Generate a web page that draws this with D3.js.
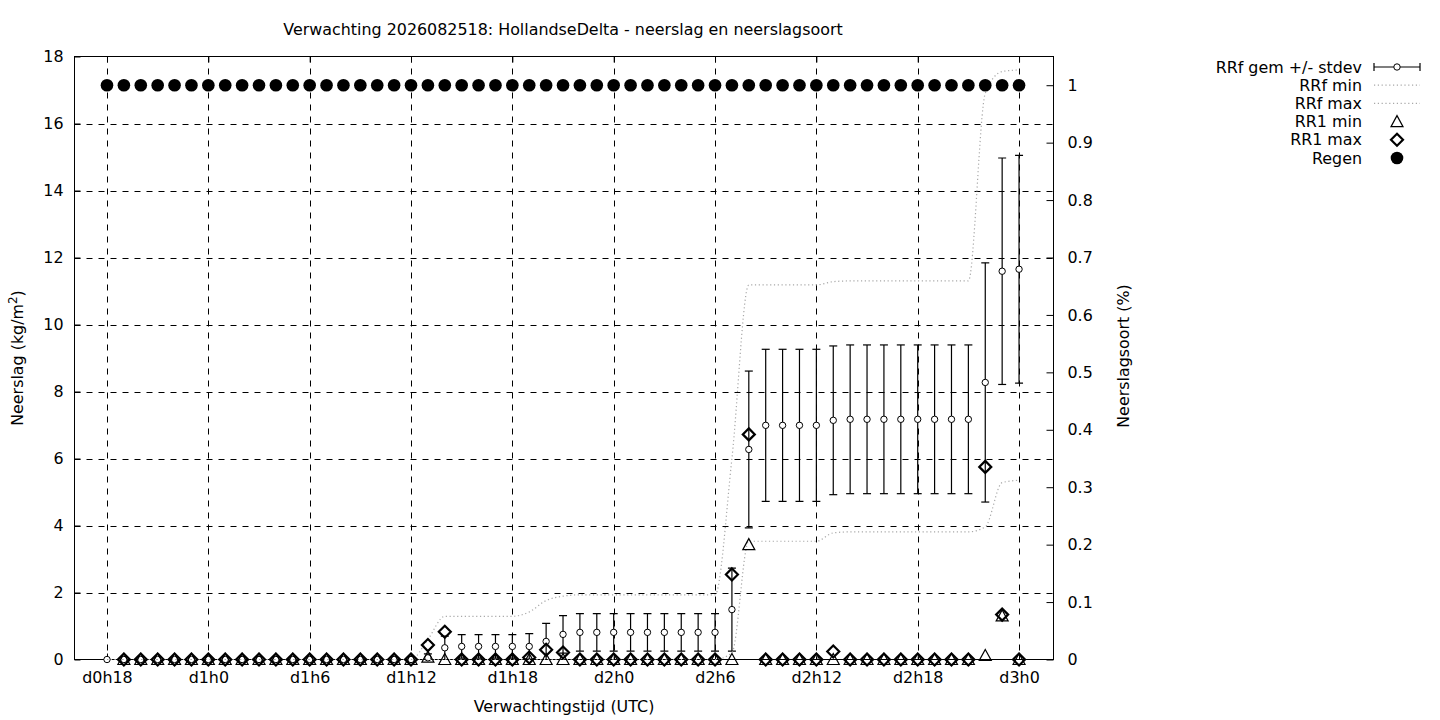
<!DOCTYPE html>
<html>
<head>
<meta charset="utf-8">
<script src="https://cdn.jsdelivr.net/npm/d3@7"></script>
<style>
  html, body { margin: 0; padding: 0; background: #fff; }
  svg text { font-family: "DejaVu Sans", sans-serif; fill: #000; }
</style>
</head>
<body>
<svg id="chart" width="1440" height="720"></svg>
<script>
// ---------- DATA ----------
const title = "Verwachting 2026082518: HollandseDelta - neerslag en neerslagsoort";
// forecast hours (from d0h0), hourly 18..72
const hours = [18,19,20,21,22,23,24,25,26,27,28,29,30,31,32,33,34,35,36,37,38,39,40,41,42,43,44,45,46,47,48,49,50,51,52,53,54,55,56,57,58,59,60,61,62,63,64,65,66,67,68,69,70,71,72];
const tickHours = [18,24,30,36,42,48,54,60,66,72];
const tickLabels = ["d0h18","d1h0","d1h6","d1h12","d1h18","d2h0","d2h6","d2h12","d2h18","d3h0"];
const yTicks = [0,2,4,6,8,10,12,14,16,18];
const y2Ticks = [0,0.1,0.2,0.3,0.4,0.5,0.6,0.7,0.8,0.9,1];

// RRf gem (mean) and stdev
const rrfMean = [0,0,0,0,0,0,0,0,0,0,0,0,0,0,0,0,0,0,0,0.05,0.35,0.39,0.39,0.39,0.39,0.39,0.54,0.75,0.81,0.81,0.81,0.81,0.81,0.81,0.81,0.81,0.81,1.49,6.27,6.99,6.99,6.99,6.99,7.14,7.17,7.17,7.17,7.17,7.17,7.17,7.17,7.17,8.27,11.59,11.65];
const rrfStd  = [0,0,0,0,0,0,0,0,0,0,0,0,0,0,0,0,0,0,0,0.12,0.35,0.35,0.35,0.35,0.35,0.38,0.54,0.56,0.56,0.56,0.56,0.56,0.56,0.56,0.56,0.56,0.56,1.24,2.34,2.27,2.27,2.27,2.27,2.22,2.22,2.22,2.22,2.22,2.22,2.22,2.22,2.22,3.57,3.38,3.40];
// RRf min / max
const rrfMin = [0,0,0,0,0,0,0,0,0,0,0,0,0,0,0,0,0,0,0,0,0,0,0,0,0,0,0,0,0,0,0,0,0,0,0,0,0,0.2,3.53,3.53,3.53,3.53,3.53,3.78,3.81,3.81,3.81,3.81,3.81,3.81,3.81,3.81,3.96,5.28,5.35];
const rrfMax = [0,0,0,0,0,0,0,0,0,0,0,0,0,0,0,0,0,0,0,0.6,1.29,1.29,1.29,1.29,1.29,1.42,1.76,1.89,1.93,1.93,1.93,1.93,1.93,1.93,1.93,1.93,1.93,6.0,11.18,11.18,11.18,11.18,11.18,11.28,11.30,11.30,11.30,11.30,11.30,11.30,11.30,11.30,16.9,17.55,17.6];
// RR1 min / max (no value at first hour)
const rr1Min = [null,0,0,0,0,0,0,0,0,0,0,0,0,0,0,0,0,0,0,0.07,0,0,0,0,0,0,0,0,0,0,0,0,0,0,0,0,0,0,3.43,0,0,0,0,0,0,0,0,0,0,0,0,0,0.12,1.30,0];
const rr1Max = [null,0,0,0,0,0,0,0,0,0,0,0,0,0,0,0,0,0,0,0.43,0.83,0,0,0,0,0.06,0.29,0.21,0,0,0,0,0,0,0,0,0,2.54,6.72,0,0,0,0,0.24,0,0,0,0,0,0,0,0,5.75,1.34,0];
// Regen (neerslagsoort, right axis)
const regen = [1,1,1,1,1,1,1,1,1,1,1,1,1,1,1,1,1,1,1,1,1,1,1,1,1,1,1,1,1,1,1,1,1,1,1,1,1,1,1,1,1,1,1,1,1,1,1,1,1,1,1,1,1,1,1];

const legendLabels = ["RRf gem +/- stdev","RRf min","RRf max","RR1 min","RR1 max","Regen"];

// ---------- LAYOUT ----------
const L = 74.5, R = 1053.5, T = 56.5, B = 659.5;
const svg = d3.select("#chart");
const x = d3.scaleLinear().domain([16.076, 74.04]).range([L, R]);
const y = d3.scaleLinear().domain([0, 18]).range([B, T]);
const y2 = d3.scaleLinear().domain([0, 1.05]).range([B, T]);
const FS = 15.9;

svg.append("defs").append("clipPath").attr("id","clip")
  .append("rect").attr("x",L).attr("y",T).attr("width",R-L).attr("height",B-T);

// grid
const grid = svg.append("g").attr("stroke","#000").attr("stroke-width",1).attr("stroke-dasharray","6,6").attr("fill","none");
tickHours.forEach(h => grid.append("line").attr("x1",Math.round(x(h))+0.5).attr("x2",Math.round(x(h))+0.5).attr("y1",T).attr("y2",B));
yTicks.filter(v => v>0 && v<18).forEach(v => grid.append("line").attr("x1",L).attr("x2",R).attr("y1",Math.round(y(v))+0.5).attr("y2",Math.round(y(v))+0.5));

// axes
const axL = svg.append("g").attr("transform",`translate(${L},0)`)
  .call(d3.axisLeft(y).tickValues(yTicks).tickSizeInner(-6).tickSizeOuter(0).tickPadding(11).tickFormat(d3.format("d")));
const axR = svg.append("g").attr("transform",`translate(${R},0)`)
  .call(d3.axisRight(y2).tickValues(y2Ticks).tickSizeInner(-7).tickSizeOuter(0).tickPadding(14).tickFormat(d => String(+d.toFixed(1))));
const axB = svg.append("g").attr("transform",`translate(0,${B})`)
  .call(d3.axisBottom(x).tickValues(tickHours).tickSizeInner(-6).tickSizeOuter(0).tickPadding(12).tickFormat((d,i) => tickLabels[i]));
const axT = svg.append("g").attr("transform",`translate(0,${T})`)
  .call(d3.axisTop(x).tickValues(tickHours).tickSizeInner(-6).tickSizeOuter(0).tickFormat(""));
[axL,axR,axB,axT].forEach(a => {
  a.select(".domain").remove();
  a.selectAll("line").attr("stroke","#000");
  a.selectAll("text").attr("font-size",FS).attr("font-family","DejaVu Sans");
});
// border
svg.append("rect").attr("x",L).attr("y",T).attr("width",R-L).attr("height",B-T)
  .attr("fill","none").attr("stroke","#000").attr("stroke-width",1);

// labels
svg.append("text").attr("x",563).attr("y",35).attr("text-anchor","middle").attr("font-size",FS).text(title);
svg.append("text").attr("x",564).attr("y",712).attr("text-anchor","middle").attr("font-size",FS).text("Verwachtingstijd (UTC)");
const yl = svg.append("text").attr("transform","translate(23,358) rotate(-90)").attr("text-anchor","middle").attr("font-size",FS);
yl.append("tspan").text("Neerslag (kg/m");
yl.append("tspan").attr("dy",-6).attr("font-size",FS*0.75).text("2");
yl.append("tspan").attr("dy",6).text(")");
svg.append("text").attr("transform","translate(1129,356) rotate(-90)").attr("text-anchor","middle").attr("font-size",FS).text("Neerslagsoort (%)");

// ---------- DATA MARKS ----------
const idx = d3.range(hours.length);
const plot = svg.append("g");

// error bars
const eb = plot.append("g").attr("clip-path","url(#clip)").attr("stroke","#000").attr("stroke-width",1.2);
idx.forEach(i => {
  const cx = x(hours[i]);
  const lo = rrfMean[i]-rrfStd[i], hi = rrfMean[i]+rrfStd[i];
  if (rrfStd[i] <= 0) return;
  eb.append("line").attr("x1",cx).attr("x2",cx).attr("y1",y(lo)).attr("y2",y(hi));
  eb.append("line").attr("x1",cx-4).attr("x2",cx+4).attr("y1",y(hi)).attr("y2",y(hi));
  eb.append("line").attr("x1",cx-4).attr("x2",cx+4).attr("y1",y(lo)).attr("y2",y(lo));
});
plot.append("g").selectAll("circle").data(idx).join("circle")
  .attr("cx",i => x(hours[i])).attr("cy",i => y(rrfMean[i])).attr("r",3.2)
  .attr("fill","#fff").attr("stroke","#000").attr("stroke-width",1);

// min / max dotted lines
const lineGen = arr => d3.line().x(i => x(hours[i])).y(i => y(arr[i])).curve(d3.curveMonotoneX)(idx);
plot.append("path").attr("d",lineGen(rrfMin)).attr("fill","none").attr("stroke","#a8a8a8").attr("stroke-width",1.2).attr("stroke-dasharray","1.2,2.6");
plot.append("path").attr("d",lineGen(rrfMax)).attr("fill","none").attr("stroke","#a8a8a8").attr("stroke-width",1.2).attr("stroke-dasharray","1.2,2.6");

// triangles (RR1 min)
const triPath = (cx, cy) => `M${cx},${cy-6}L${cx+6},${cy+5}L${cx-6},${cy+5}Z`;
plot.append("g").selectAll("path").data(idx.filter(i => rr1Min[i] !== null)).join("path")
  .attr("d",i => triPath(x(hours[i]), y(rr1Min[i])))
  .attr("fill","none").attr("stroke","#000").attr("stroke-width",1.2);
// diamonds (RR1 max)
const diaPath = (cx, cy) => `M${cx},${cy-6}L${cx+6},${cy}L${cx},${cy+6}L${cx-6},${cy}Z`;
plot.append("g").selectAll("path").data(idx.filter(i => rr1Max[i] !== null)).join("path")
  .attr("d",i => diaPath(x(hours[i]), y(rr1Max[i])))
  .attr("fill","none").attr("stroke","#000").attr("stroke-width",2.2);
// Regen
plot.append("g").selectAll("circle").data(idx).join("circle")
  .attr("cx",i => x(hours[i])).attr("cy",i => y2(regen[i])).attr("r",6.3).attr("fill","#000");

// ---------- LEGEND ----------
const lg = svg.append("g");
const lx1 = 1374, lx2 = 1420, lmx = 1397, ltx = 1362;
legendLabels.forEach((t,k) => {
  const ly = 67 + k*18.2;
  lg.append("text").attr("x",ltx).attr("y",ly).attr("dy","0.35em").attr("text-anchor","end").attr("font-size",FS).text(t);
  if (k === 0) {
    lg.append("line").attr("x1",lx1).attr("x2",lx2).attr("y1",ly).attr("y2",ly).attr("stroke","#000").attr("stroke-width",1.2);
    lg.append("line").attr("x1",lx1).attr("x2",lx1).attr("y1",ly-4).attr("y2",ly+4).attr("stroke","#000").attr("stroke-width",1.2);
    lg.append("line").attr("x1",lx2).attr("x2",lx2).attr("y1",ly-4).attr("y2",ly+4).attr("stroke","#000").attr("stroke-width",1.2);
    lg.append("circle").attr("cx",lmx).attr("cy",ly).attr("r",3.2).attr("fill","#fff").attr("stroke","#000");
  } else if (k === 1 || k === 2) {
    lg.append("line").attr("x1",lx1).attr("x2",lx2).attr("y1",ly).attr("y2",ly).attr("stroke","#a8a8a8").attr("stroke-width",1.2).attr("stroke-dasharray","1.2,2.6");
  } else if (k === 3) {
    lg.append("path").attr("d",triPath(lmx,ly)).attr("fill","none").attr("stroke","#000").attr("stroke-width",1.2);
  } else if (k === 4) {
    lg.append("path").attr("d",diaPath(lmx,ly)).attr("fill","none").attr("stroke","#000").attr("stroke-width",2.2);
  } else {
    lg.append("circle").attr("cx",lmx).attr("cy",ly).attr("r",6.3).attr("fill","#000");
  }
});
</script>
</body>
</html>
